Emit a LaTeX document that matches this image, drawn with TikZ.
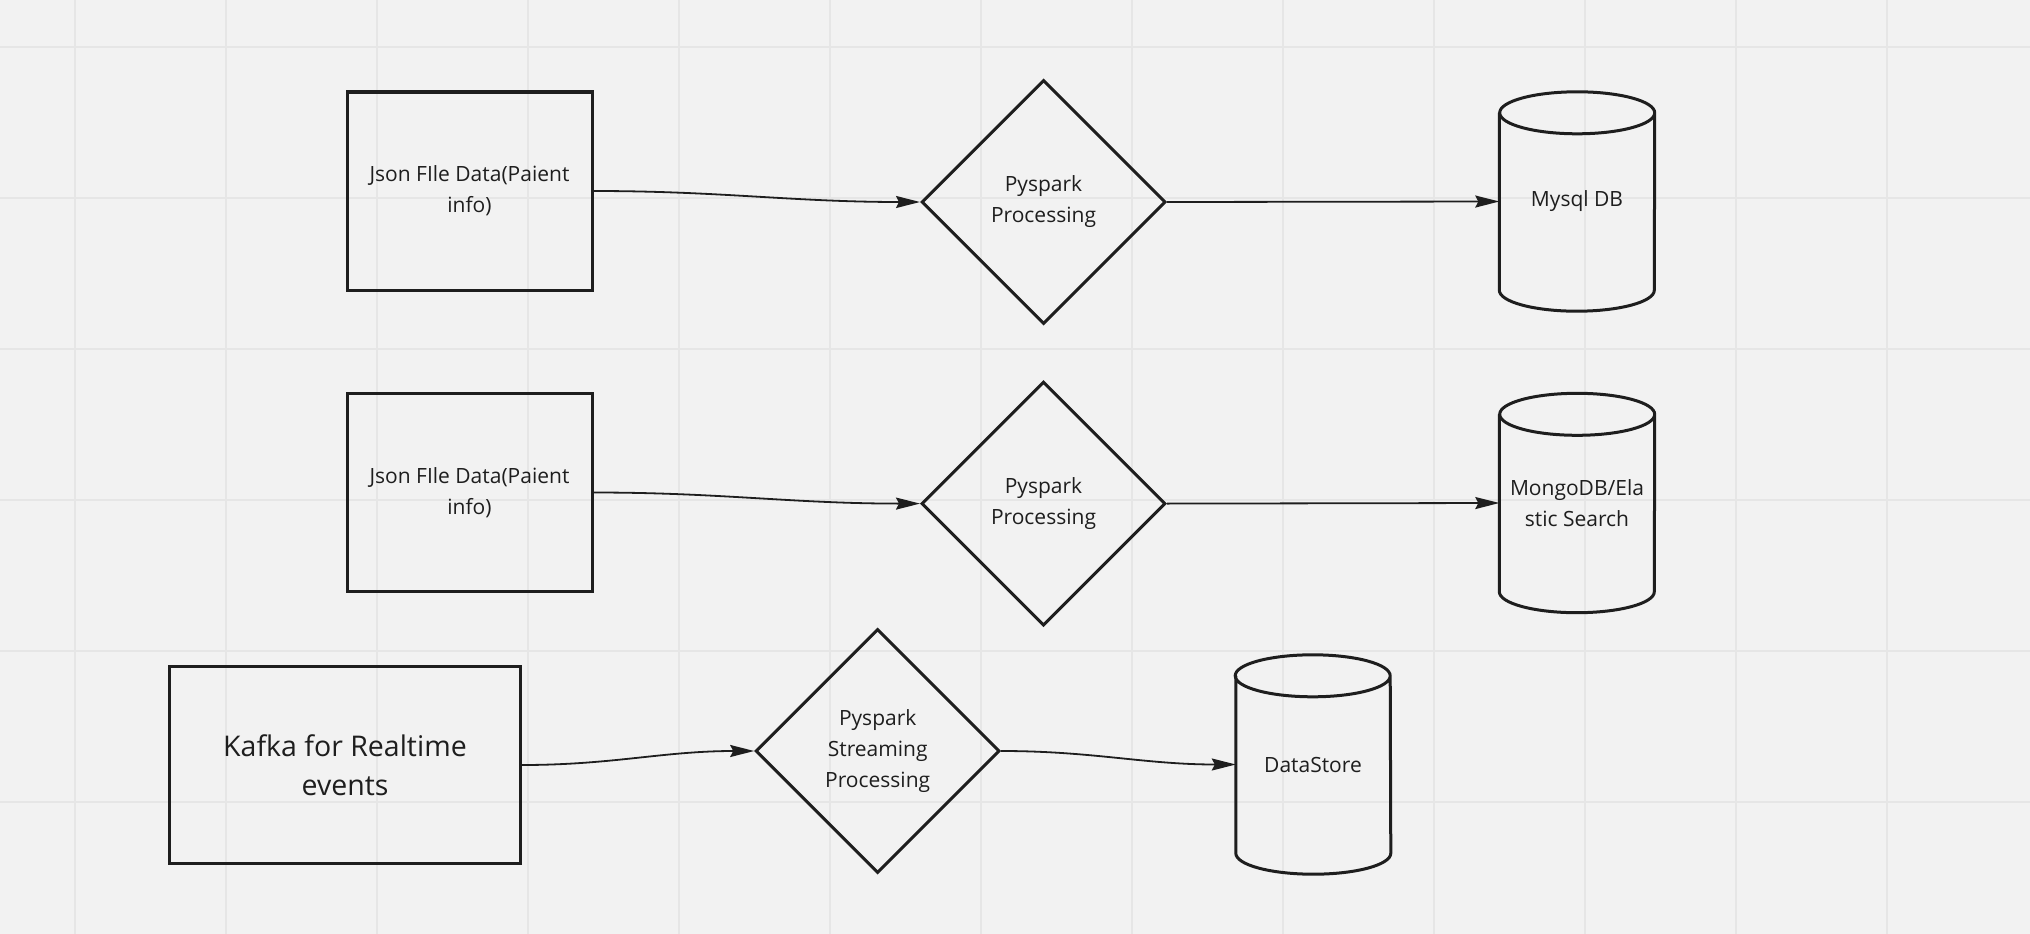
\documentclass[tikz,border=0pt]{standalone}
\usepackage{fontspec}
\setmainfont{Open Sans}
\usetikzlibrary{shapes.geometric,arrows.meta}
\definecolor{canvas}{HTML}{F2F2F2}
\definecolor{gridgray}{HTML}{E6E6E6}
\definecolor{ink}{HTML}{1E1E1E}

\begin{document}
\begin{tikzpicture}[x=1pt,y=-1pt,>={Stealth[length=24pt,width=12pt,inset=3pt]}]
  \tikzstyle{source}=[rectangle,draw=ink,line width=3pt,minimum width=245pt,minimum height=198pt,align=center,text=ink,font=\fontsize{21}{31}\selectfont]
  \tikzstyle{bigsource}=[source,minimum width=351pt,minimum height=197pt,font=\fontsize{28.5}{39}\selectfont]
  \tikzstyle{process}=[diamond,aspect=1,draw=ink,line width=3pt,minimum size=244pt,inner sep=0pt,align=center,text=ink,font=\fontsize{21}{31}\selectfont]
  \tikzstyle{store}=[rectangle,minimum width=155pt,minimum height=219pt,align=center,text=ink,font=\fontsize{21}{31}\selectfont]
  \tikzstyle{flow}=[->,draw=ink,line width=1.8pt]
  \tikzstyle{gridline}=[draw=gridgray,line width=2pt]

  % background and grid
  \useasboundingbox (0,0) rectangle (2030,934);
  \fill[canvas] (0,0) rectangle (2030,934);
  \foreach \gx in {75,226,...,2030}
    \draw[gridline] (\gx,0) -- (\gx,934);
  \foreach \gy in {47,198,...,934}
    \draw[gridline] (0,\gy) -- (2030,\gy);

  % batch pipeline 1
  \node [source] (c1) at (469.5,191) {Json FIle Data(Paient\\info)};
  \node [process] (c2) at (1043.5,202) {Pyspark\\Processing};
  \node [store] (c3) at (1577,201.5) {Mysql DB};

  % batch pipeline 2
  \node [source] (c4) at (469.5,492.5) {Json FIle Data(Paient\\info)};
  \node [process] (c5) at (1043.5,503.6) {Pyspark\\Processing};
  \node [store] (c6) at (1577,503) {MongoDB/Ela\\stic Search};

  % streaming pipeline
  \node [bigsource] (c7) at (345,765) {Kafka for Realtime\\events};
  \node [process] (c8) at (877.7,751) {Pyspark\\Streaming\\Processing};
  \node [store,minimum width=154pt] (c9) at (1313,764.5) {DataStore};

  % cylinders
  \foreach \n in {c3,c6,c9}
    \draw[draw=ink,line width=3pt]
      ([yshift=-21pt]\n.north west) -- ([yshift=21pt]\n.south west)
      arc[start angle=180,end angle=360,x radius=77.5pt,y radius=21pt]
      -- ([yshift=-21pt]\n.north east)
      arc[start angle=0,end angle=360,x radius=77.5pt,y radius=21pt];

  \draw [flow] (c1.east) to[out=0,in=180] (c2.west);
  \draw [flow] (c2.east) -- (c3.west);
  \draw [flow] (c4.east) to[out=0,in=180] (c5.west);
  \draw [flow] (c5.east) -- (c6.west);
  \draw [flow] (c7.east) to[out=0,in=180] (c8.west);
  \draw [flow] (c8.east) to[out=0,in=180] (c9.west);
\end{tikzpicture}
\end{document}
